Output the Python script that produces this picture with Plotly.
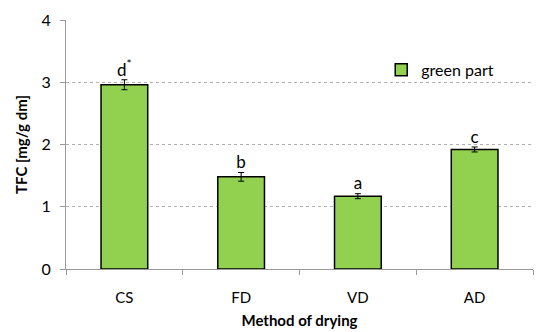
import plotly.graph_objects as go

categories = ["CS", "FD", "VD", "AD"]
values = [2.96, 1.48, 1.17, 1.92]
errors = [0.08, 0.07, 0.04, 0.04]
letters = ["d<sup>*</sup>", "b", "a", "c"]
series_name = "green part"

FONT = "Lato, 'Open Sans', sans-serif"

fig = go.Figure()
fig.add_trace(go.Bar(
    x=categories, y=values, name=series_name,
    marker=dict(color="#92D050", line=dict(color="black", width=1.5)),
    width=0.4,
    error_y=dict(type="data", array=errors, visible=True, color="black", thickness=1, width=3),
    showlegend=True,
))
fig.add_trace(go.Scatter(
    x=categories, y=[v + e for v, e in zip(values, errors)],
    mode="text", text=letters, textposition="top center",
    textfont=dict(size=17, color="black", family=FONT),
    showlegend=False, cliponaxis=False, hoverinfo="skip",
))

fig.update_layout(
    width=550, height=332,
    margin=dict(l=66, r=17, t=20, b=63, autoexpand=False),
    plot_bgcolor="white", paper_bgcolor="white",
    font=dict(family=FONT, size=15, color="black"),
    legend=dict(x=0.675, y=0.80, xanchor="left", yanchor="middle",
                bgcolor="rgba(0,0,0,0)", font=dict(size=16, family=FONT)),
    xaxis=dict(
        type="category", tickson="boundaries", ticks="outside", ticklen=5,
        tickcolor="#999999", showline=True, linecolor="#999999", linewidth=1,
        showgrid=False, tickfont=dict(size=15, family=FONT), automargin=False,
        ticklabelstandoff=15,
        title=dict(text="<b>Method of drying</b>", font=dict(size=15, family=FONT), standoff=10),
    ),
    yaxis=dict(
        range=[0, 4], dtick=1, ticks="outside", ticklen=5, tickcolor="#999999",
        showline=True, linecolor="#999999", linewidth=1,
        showgrid=True, gridcolor="#b0b0b0", griddash="dot", gridwidth=1,
        zeroline=False, tickfont=dict(size=16, family=FONT), automargin=False,
        ticklabelstandoff=6,
        title=dict(text="<b>TFC [mg/g dm]</b>", font=dict(size=15, family=FONT), standoff=10),
    ),
)

fig.write_html("out.html", post_script="document.body.style.margin='0';",
               config={"displayModeBar": False})
